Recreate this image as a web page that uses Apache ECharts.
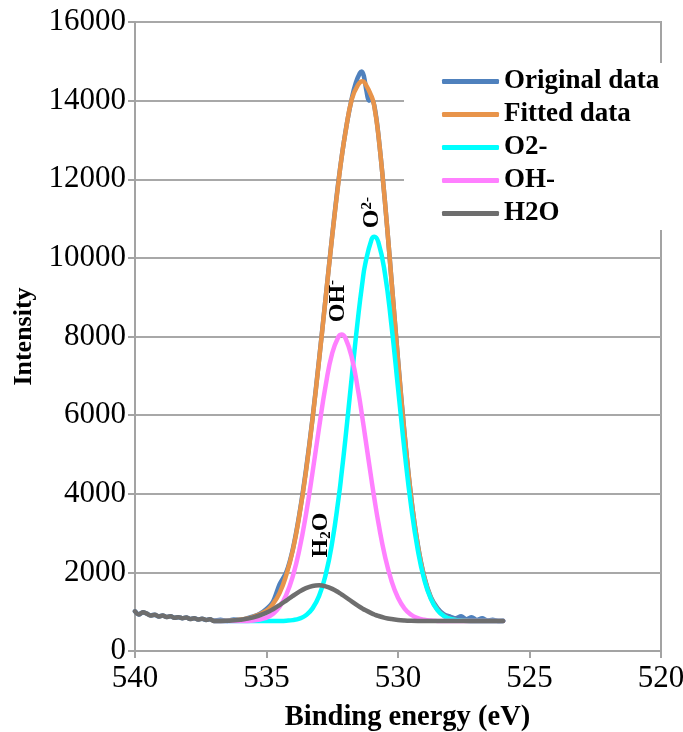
<!DOCTYPE html>
<html>
<head>
<meta charset="utf-8">
<script src="https://cdn.jsdelivr.net/npm/echarts@6/dist/echarts.min.js"></script>
<style>
  html, body { margin: 0; padding: 0; background: #fff; }
  #chart { width: 683px; height: 732px; }
</style>
</head>
<body>
<div id="chart"></div>
<script>
// O 1s spectrum: measured counts and the three-component fit.

// Background recorded above 537 eV (eV, counts)
const tailEnergy = [540.0, 539.85, 539.7, 539.55, 539.4, 539.25, 539.1, 538.95, 538.8, 538.65,
                    538.5, 538.35, 538.2, 538.05, 537.9, 537.75, 537.6, 537.45, 537.3, 537.15];
const tailIntensity = [1010, 930, 985, 950, 905, 925, 880, 900, 865, 885,
                       845, 860, 835, 850, 815, 835, 800, 820, 790, 805];

// Measured spectrum across the O 1s peak
const peakEnergy = [537.0, 536.75, 536.5, 536.25, 536.0, 535.75, 535.5, 535.25, 535.0, 534.75,
                    534.5, 534.25, 534.0, 533.75, 533.5, 533.25, 533.0, 532.75, 532.5, 532.25,
                    532.0, 531.75, 531.6, 531.45, 531.38, 531.3, 531.2, 531.1, 531.0, 530.9,
                    530.75, 530.5, 530.25, 530.0, 529.75, 529.5, 529.25, 529.0, 528.75, 528.5,
                    528.25, 528.0, 527.8, 527.6, 527.4, 527.2, 527.0, 526.8, 526.6, 526.4,
                    526.2, 526.0];
const peakIntensity = [775, 795, 765, 800, 790, 830, 880, 950, 1070, 1260,
                       1700, 2000, 2590, 3480, 4600, 5920, 7420, 9000, 10580, 12030,
                       13200, 14080, 14460, 14700, 14740, 14630, 14250, 14000, 14030, 13870,
                       13160, 11460, 9460, 7420, 5520, 3920, 2720, 1890, 1370, 1090,
                       930, 870, 830, 885, 810, 860, 790, 830, 775, 795,
                       765, 770];

// Energies at which the fit and its components are evaluated
const fitEnergy = [537.0, 536.5, 536.0, 535.5, 535.0, 534.75, 534.5, 534.25, 534.0, 533.75,
                   533.5, 533.25, 533.0, 532.75, 532.5, 532.25, 532.15, 532.0, 531.75, 531.5,
                   531.35, 531.25, 531.0, 530.9, 530.75, 530.5, 530.25, 530.0, 529.75, 529.5,
                   529.25, 529.0, 528.75, 528.5, 528.25, 528.0, 527.5, 527.0, 526.5, 526.0];

const fittedIntensity = [763, 770, 796, 871, 1030, 1200, 1480, 1930, 2560, 3450,
                         4560, 5900, 7400, 8980, 10560, 12000, 12520, 13180, 14050, 14420,
                         14490, 14440, 14100, 13850, 13150, 11450, 9450, 7400, 5500, 3900,
                         2700, 1870, 1345, 1050, 892, 815, 768, 760, 760, 760];

const o2Intensity = [760, 760, 760, 760, 760, 761, 763, 770, 786, 825,
                     911, 1084, 1403, 1942, 2774, 3935, 4488, 5394, 7021, 8591,
                     9391, 9828, 10480, 10540, 10405, 9620, 8295, 6692, 5083, 3677,
                     2582, 1813, 1324, 1039, 888, 814, 768, 760, 760, 760];

const ohIntensity = [760, 760, 762, 777, 849, 946, 1124, 1426, 1899, 2578,
                     3472, 4541, 5686, 6757, 7581, 8011, 8050, 7962, 7444, 6557,
                     5912, 5458, 4317, 3883, 3277, 2424, 1789, 1354, 1080, 921,
                     836, 794, 774, 766, 762, 760, 760, 760, 760, 760];

const h2oIntensity = [763, 770, 794, 854, 975, 1063, 1168, 1283, 1401, 1511,
                      1598, 1654, 1670, 1644, 1580, 1486, 1442, 1374, 1255, 1141,
                      1079, 1040, 957, 929, 892, 844, 812, 790, 777, 769,
                      764, 762, 760, 760, 760, 760, 760, 760, 760, 760];

// Axis ranges
const energyRange = [520, 540];
const energyStep = 5;
const intensityRange = [0, 16000];
const intensityStep = 2000;

// Peak annotations placed in data coordinates
const peakLabels = [
  { text: 'O{sup|2-}', energy: 530.98, intensity: 11150 },
  { text: 'OH{sup|-}', energy: 532.3, intensity: 8900 },
  { text: 'H{sub|2}O', energy: 532.95, intensity: 2950 }
];

const SERIF = 'Liberation Serif';

function zip(xs, ys) {
  return xs.map(function (x, i) { return [x, ys[i]]; });
}

function line(name, color, data, smooth) {
  return {
    name: name,
    type: 'line',
    data: data,
    symbol: 'none',
    smooth: smooth,
    lineStyle: { color: color, width: 4.5, cap: 'round', join: 'round' },
    itemStyle: { color: color },
    emphasis: { disabled: true },
    animation: false
  };
}

const chart = echarts.init(document.getElementById('chart'), null, { renderer: 'canvas' });

chart.setOption({
  backgroundColor: '#fff',
  grid: {
    left: 135, right: 22, top: 22, bottom: 81,
    containLabel: false,
    outerBoundsMode: 'none',
    show: true, borderColor: '#a3a3a3', borderWidth: 2, backgroundColor: 'transparent'
  },
  legend: {
    orient: 'vertical',
    left: 404, top: 63,
    backgroundColor: '#fff',
    padding: [5, 10, 3, 38],
    itemGap: 6,
    itemWidth: 57,
    itemHeight: 5,
    icon: 'roundRect',
    selectedMode: false,
    textStyle: { fontFamily: SERIF, fontSize: 27, fontWeight: 'bold', color: '#000' },
    data: ['Original data', 'Fitted data', 'O2-', 'OH-', 'H2O']
  },
  xAxis: {
    type: 'value',
    inverse: true,
    min: energyRange[0], max: energyRange[1], interval: energyStep,
    name: 'Binding energy (eV)',
    nameLocation: 'middle',
    nameGap: 52,
    nameTextStyle: { fontFamily: SERIF, fontSize: 28.5, fontWeight: 'bold', color: '#000',
                     padding: [0, 0, 0, 19] },
    axisLine: { show: true, lineStyle: { color: '#a3a3a3', width: 2 } },
    axisTick: { show: true, length: 7, lineStyle: { color: '#a3a3a3', width: 2 } },
    axisLabel: { margin: 12, fontFamily: SERIF, fontSize: 31, color: '#000',
                 formatter: function (v) { return String(v); } },
    splitLine: { show: false }
  },
  yAxis: {
    type: 'value',
    min: intensityRange[0], max: intensityRange[1], interval: intensityStep,
    name: 'Intensity',
    nameLocation: 'middle',
    nameGap: 88,
    nameTextStyle: { fontFamily: SERIF, fontSize: 26, fontWeight: 'bold', color: '#000' },
    axisLine: { show: true, lineStyle: { color: '#a3a3a3', width: 2 } },
    axisTick: { show: true, length: 7, lineStyle: { color: '#a3a3a3', width: 2 } },
    axisLabel: { margin: 9, fontFamily: SERIF, fontSize: 31, color: '#000',
                 formatter: function (v) { return String(v); } },
    splitLine: { show: true, lineStyle: { color: '#a8a8a8', width: 2 } }
  },
  series: [
    line('Original data', '#4f81bd', zip(tailEnergy.concat(peakEnergy), tailIntensity.concat(peakIntensity)), 0.3),
    line('Fitted data', '#e8944a', zip(fitEnergy, fittedIntensity), 0.5),
    line('O2-', '#00ffff', zip(fitEnergy, o2Intensity), 0.5),
    line('OH-', '#ff80ff', zip(fitEnergy, ohIntensity), 0.5),
    line('H2O', '#6e6e6e', zip(tailEnergy.concat(fitEnergy), tailIntensity.concat(h2oIntensity)), 0.4)
  ]
});

// Rotated peak labels, positioned through the chart's own coordinate system
chart.setOption({
  graphic: peakLabels.map(function (p) {
    const pt = chart.convertToPixel({ gridIndex: 0 }, [p.energy, p.intensity]);
    return {
      type: 'text',
      x: pt[0], y: pt[1],
      rotation: Math.PI / 2,
      z: 100,
      style: {
        text: p.text,
        fontFamily: SERIF,
        fontSize: 24,
        fontWeight: 'bold',
        fill: '#000',
        align: 'center',
        verticalAlign: 'middle',
        rich: {
          sup: { fontFamily: SERIF, fontSize: 15, fontWeight: 'bold', fill: '#000', verticalAlign: 'top', lineHeight: 26 },
          sub: { fontFamily: SERIF, fontSize: 15, fontWeight: 'bold', fill: '#000', verticalAlign: 'bottom', lineHeight: 26 }
        }
      }
    };
  })
});
</script>
</body>
</html>
